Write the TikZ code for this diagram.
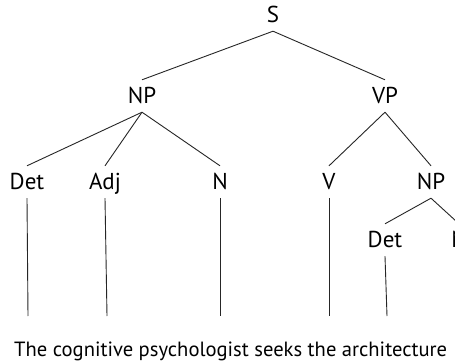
\documentclass[tikz,border=0pt]{standalone}
\usepackage{fontspec}
\setmainfont{PT Sans}
\begin{document}
\begin{tikzpicture}[x=1pt,y=-1pt,
  cat/.style={font=\fontsize{23}{27}\selectfont, inner xsep=0pt, inner ysep=8pt,
              text height=16pt, text depth=0pt},
  branch/.style={line width=0.9pt, black!85}]
\useasboundingbox (0,0) rectangle (455,363);
\clip (0,0) rectangle (455,363);
\fill[white] (0,0) rectangle (455,363);

% category labels
\node[cat] (S)    at (273,15)  {S};
\node[cat] (NPa)  at (142,96)  {NP};
\node[cat] (VP)   at (385,96)  {VP};
\node[cat] (DetA) at (27,182)  {Det};
\node[cat] (Adj)  at (105,182) {Adj};
\node[cat] (Na)   at (220,182) {N};
\node[cat] (V)    at (329,182) {V};
\node[cat] (NPb)  at (431,182) {NP};
\node[cat] (DetB) at (385,240) {Det};
\node[cat] (Nb)   at (459,240) {N};

% the sentence
\node[font=\fontsize{20.6}{25}\selectfont, anchor=base west, inner sep=0pt] (sent) at (14,356)
  {The cognitive psychologist seeks the architecture};

% lower ends of the lexical stems
\coordinate (wA) at (28,316);
\coordinate (wB) at (107,316);
\coordinate (wC) at (220,316);
\coordinate (wD) at (329,316);
\coordinate (wE) at (387,316);

% branches
\draw[branch] (S.south) -- (NPa.north);
\draw[branch] (S.south) -- (VP.north);
\draw[branch] (NPa.south) -- (DetA.north);
\draw[branch] (NPa.south) -- (Adj.north);
\draw[branch] (NPa.south) -- (Na.north);
\draw[branch] (VP.south) -- (V.north);
\draw[branch] (VP.south) -- (NPb.north);
\draw[branch] (NPb.south) -- (DetB.north);
\draw[branch] (NPb.south) -- (Nb.north);

% stems down to the words
\draw[branch] (DetA.south) -- (wA);
\draw[branch] (Adj.south)  -- (wB);
\draw[branch] (Na.south)   -- (wC);
\draw[branch] (V.south)    -- (wD);
\draw[branch] (DetB.south) -- (wE);
\end{tikzpicture}
\end{document}
